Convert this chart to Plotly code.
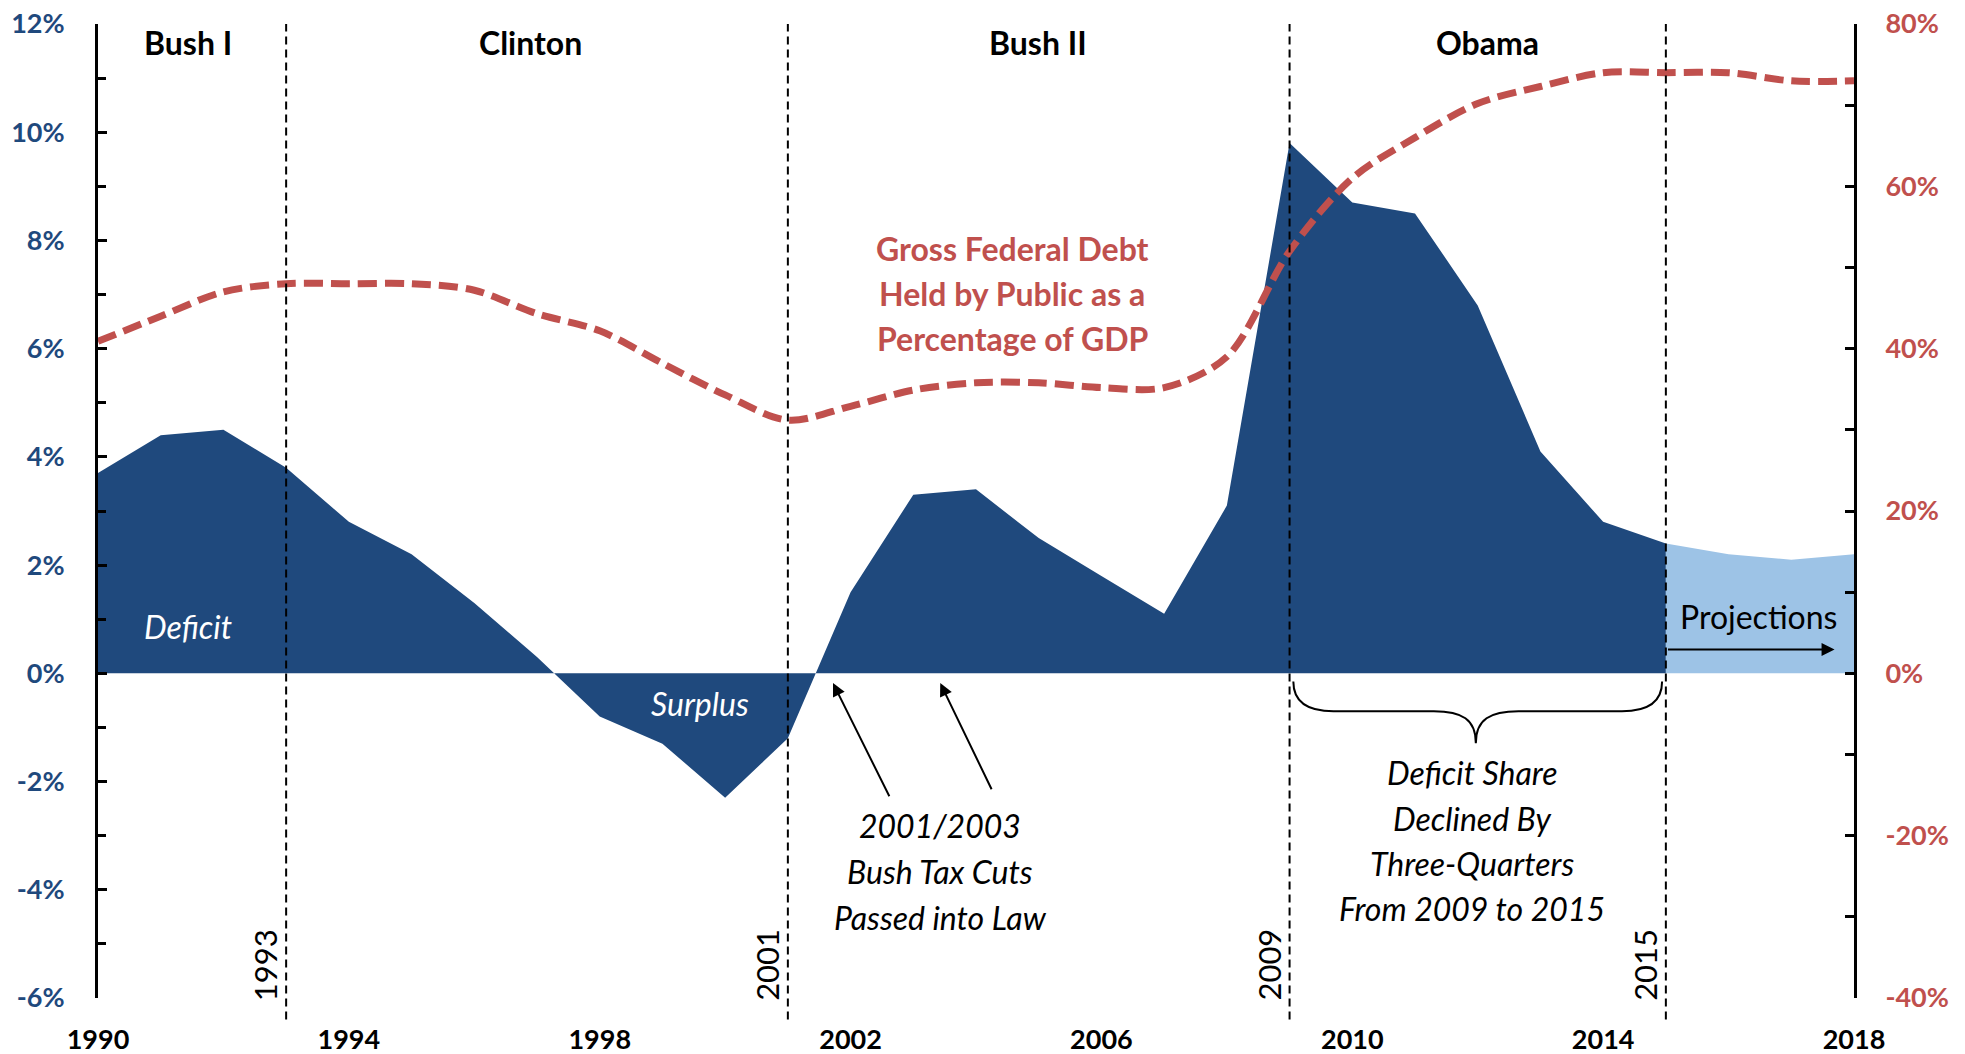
import plotly.graph_objects as go

# ---------------- data ----------------
years = list(range(1990, 2016))
deficit = [3.7, 4.4, 4.5, 3.8, 2.8, 2.2, 1.3, 0.3, -0.8, -1.3, -2.3, -1.2, 1.5, 3.3,
           3.4, 2.5, 1.8, 1.1, 3.1, 9.8, 8.7, 8.5, 6.8, 4.1, 2.8, 2.4]
proj_years = [2015, 2016, 2017, 2018]
proj_deficit = [2.4, 2.2, 2.1, 2.2]
debt_years = list(range(1990, 2019))
debt = [40.9, 44.0, 47.0, 48.0, 48.0, 48.0, 47.2, 44.3, 42.2, 38.2, 34.3, 31.2, 32.9,
        34.9, 35.8, 35.8, 35.2, 35.2, 39.0, 52.0, 61.0, 66.0, 70.2, 72.3, 74.0, 74.0,
        74.0, 73.0, 73.0]

left_tickvals = [-6, -4, -2, 0, 2, 4, 6, 8, 10, 12]
left_ticktext = ["-6%", "-4%", "-2%", "0%", "2%", "4%", "6%", "8%", "10%", "12%"]
right_tickvals = [-40, -20, 0, 20, 40, 60, 80]
right_ticktext = ["-40%", "-20%", "0%", "20%", "40%", "60%", "80%"]
x_tickvals = [1990, 1994, 1998, 2002, 2006, 2010, 2014, 2018]
x_ticktext = ["1990", "1994", "1998", "2002", "2006", "2010", "2014", "2018"]

admin_names = ["Bush I", "Clinton", "Bush II", "Obama"]
admin_x = [1991.44, 1996.9, 2004.99, 2012.15]
term_years = [1993, 2001, 2009, 2015]

DARK = "#1F497D"
LIGHT = "#9DC3E6"
RED = "#C0504D"
FONT = "Lato"

fig = go.Figure()

fig.add_trace(go.Scatter(x=years, y=deficit, mode="lines", fill="tozeroy",
                         line=dict(width=0, color=DARK), fillcolor=DARK,
                         hoverinfo="skip", showlegend=False))
fig.add_trace(go.Scatter(x=proj_years, y=proj_deficit, mode="lines", fill="tozeroy",
                         line=dict(width=0, color=LIGHT), fillcolor=LIGHT,
                         hoverinfo="skip", showlegend=False))
fig.add_trace(go.Scatter(x=debt_years, y=debt, yaxis="y2", mode="lines",
                         line=dict(color=RED, width=7, dash="19px,8px",
                                   shape="spline", smoothing=0.9),
                         hoverinfo="skip", showlegend=False))

# vertical dashed term lines
for yr in term_years:
    fig.add_shape(type="line", xref="x", yref="paper", x0=yr, x1=yr, y0=-0.022, y1=1.0,
                  line=dict(color="black", width=2, dash="8px,5px"), layer="above")
    fig.add_annotation(x=yr, y=-6, xref="x", yref="y", text=str(yr), textangle=-90,
                       showarrow=False, xanchor="center", yanchor="bottom",
                       xshift=-21, yshift=-5,
                       font=dict(family=FONT, size=31, color="black"))

for name, xx in zip(admin_names, admin_x):
    fig.add_annotation(x=xx, y=11.65, xref="x", yref="y", text=name, showarrow=False,
                       font=dict(family=FONT, size=32, color="black", weight="bold"))


def add_lines(lines, x, y, spacing, font):
    for i, t in enumerate(lines):
        fig.add_annotation(x=x, y=y, xref="x", yref="y", text=t, showarrow=False,
                           yshift=-i * spacing, xanchor="center", yanchor="middle",
                           font=font)


add_lines(["Gross Federal Debt", "Held by Public as a", "Percentage of GDP"],
          2004.58, 7.86, 45, dict(family=FONT, size=32, color=RED, weight="bold"))
add_lines(["2001/2003", "Bush Tax Cuts", "Passed into Law"],
          2003.43, -2.82, 46, dict(family=FONT, size=32, color="black", style="italic"))
add_lines(["Deficit Share", "Declined By", "Three-Quarters", "From 2009 to 2015"],
          2011.91, -1.84, 45.3, dict(family=FONT, size=32, color="black", style="italic"))

fig.add_annotation(x=1991.44, y=0.86, text="Deficit", showarrow=False,
                   font=dict(family=FONT, size=32, color="white", style="italic"))
fig.add_annotation(x=1999.6, y=-0.55, text="Surplus", showarrow=False,
                   font=dict(family=FONT, size=32, color="white", style="italic"))
fig.add_annotation(x=2016.47, y=1.05, text="Projections", showarrow=False,
                   font=dict(family=FONT, size=32, color="black"))

# arrows
arrow_style = dict(showarrow=True, arrowhead=2, arrowsize=1.3, arrowwidth=2,
                   arrowcolor="black", axref="x", ayref="y", xref="x", yref="y", text="")
fig.add_annotation(x=2001.72, y=-0.18, ax=2002.63, ay=-2.30, **arrow_style)
fig.add_annotation(x=2003.43, y=-0.18, ax=2004.26, ay=-2.17, **arrow_style)
fig.add_annotation(x=2017.69, y=0.44, ax=2015.01, ay=0.44, **arrow_style)

# curly brace
brace = ("M 2009.06,-0.15 C 2009.06,-0.55 2009.3,-0.70 2009.7,-0.70 "
         "L 2011.3,-0.70 C 2011.75,-0.70 2011.97,-0.85 2011.97,-1.29 "
         "C 2011.97,-0.85 2012.2,-0.70 2012.65,-0.70 L 2014.3,-0.70 "
         "C 2014.7,-0.70 2014.94,-0.55 2014.94,-0.15")
fig.add_shape(type="path", path=brace, xref="x", yref="y",
              line=dict(color="black", width=2))

fig.update_layout(
    width=1957, height=1046,
    margin=dict(l=90, r=111, t=16, b=56, autoexpand=False),
    paper_bgcolor="white", plot_bgcolor="white",
    showlegend=False,
    xaxis=dict(range=[1990, 2018], tickmode="array", tickvals=x_tickvals,
               ticktext=x_ticktext, showgrid=False, zeroline=False, showline=False,
               ticks="", ticklabelstandoff=23, automargin=False,
               ticklabeloverflow="allow",
               tickfont=dict(family=FONT, size=27, color="black", weight="bold")),
    xaxis2=dict(range=[1990, 2018], overlaying="x", anchor="free", position=1/3,
                side="top", showgrid=False, zeroline=False, showline=True,
                linecolor="black", linewidth=3, ticks="outside", tickmode="linear",
                tick0=1990, dtick=1, ticklen=8, tickwidth=2.5, tickcolor="black",
                showticklabels=False, automargin=False),
    yaxis=dict(range=[-6, 12], tickmode="array", tickvals=left_tickvals,
               ticktext=left_ticktext, showgrid=False, zeroline=False,
               showline=True, linecolor="black", linewidth=3,
               ticks="inside", ticklen=9, tickwidth=3, tickcolor="black",
               ticklabelstandoff=25, automargin=False, ticklabeloverflow="allow",
               minor=dict(tickmode="linear", tick0=0, dtick=1, ticks="inside",
                          ticklen=8, tickwidth=3, tickcolor="black"),
               tickfont=dict(family=FONT, size=27, color=DARK, weight="bold")),
    yaxis2=dict(range=[-40, 80], overlaying="y", side="right", tickmode="array",
                tickvals=right_tickvals, ticktext=right_ticktext, showgrid=False,
                zeroline=False, showline=True, linecolor="black", linewidth=3,
                ticks="inside", ticklen=9, tickwidth=3, tickcolor="black",
                ticklabelstandoff=23, automargin=False, ticklabeloverflow="allow",
                minor=dict(tickmode="linear", tick0=0, dtick=10, ticks="inside",
                           ticklen=9, tickwidth=3, tickcolor="black"),
                tickfont=dict(family=FONT, size=27, color=RED, weight="bold")),
)

fig.write_html("out.html")
